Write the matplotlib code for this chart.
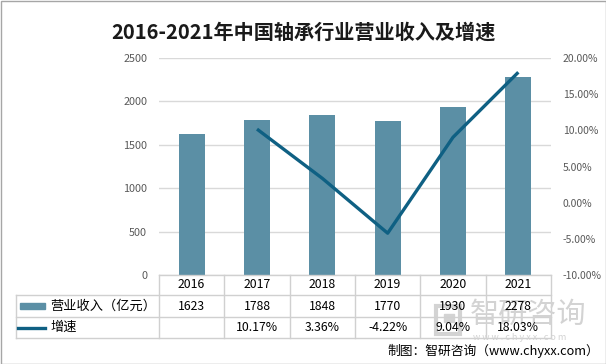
import matplotlib
matplotlib.use("Agg")
import matplotlib.pyplot as plt
from matplotlib.lines import Line2D
from matplotlib.patches import Rectangle

plt.rcParams["font.family"] = ["Noto Sans CJK SC", "DejaVu Sans"]

years = ["2016", "2017", "2018", "2019", "2020", "2021"]
revenue = [1623, 1788, 1848, 1770, 1930, 2278]
growth = [None, 10.17, 3.36, -4.22, 9.04, 18.03]
revenue_labels = ["1623", "1788", "1848", "1770", "1930", "2278"]
growth_labels = ["", "10.17%", "3.36%", "-4.22%", "9.04%", "18.03%"]

bar_color = "#5B8FA5"
line_color = "#0F6083"
grid_color = "#D9D9D9"
tick_color = "#595959"

W, H = 606, 364
fig = plt.figure(figsize=(W / 100, H / 100), dpi=100)

# plot area in pixel coords
x0, x1, ytop, ybot = 159, 551, 58, 275
ax = fig.add_axes([x0 / W, 1 - ybot / H, (x1 - x0) / W, (ybot - ytop) / H])

xs = list(range(len(years)))
ax.bar(xs, revenue, width=0.4, color=bar_color, zorder=2)
ax.set_xlim(-0.5, len(years) - 0.5)
ax.set_ylim(0, 2500)
ax.set_yticks(range(0, 2501, 500))
ax.set_xticks([])
ax.grid(axis="y", color=grid_color, linewidth=1, zorder=0)
for s in ax.spines.values():
    s.set_visible(False)
ax.tick_params(axis="y", length=0, pad=8.5, labelsize=7.8, labelcolor=tick_color)

ax2 = ax.twinx()
gx = [x for x, g in zip(xs, growth) if g is not None]
gy = [g for g in growth if g is not None]
ax2.plot(gx, gy, color=line_color, linewidth=2.4, zorder=3, solid_capstyle="butt")
ax2.set_ylim(-10, 20)
ax2.set_yticks(range(-10, 21, 5))
ax2.set_yticklabels([f"{v:.2f}%" for v in range(-10, 21, 5)])
for s in ax2.spines.values():
    s.set_visible(False)
ax2.tick_params(axis="y", length=0, pad=8.5, labelsize=7.5, labelcolor=tick_color)

# watermark (drawn first so table text sits on top)
wm = "#D3D3D3"
fig.add_artist(Rectangle((436 / W, 1 - 334 / H), 24 / W, 28 / H, fill=False,
                         edgecolor=wm, lw=3))
fig.add_artist(Rectangle((444 / W, 1 - 322 / H), 10 / W, 8 / H, color=wm))
fig.text(528 / W, 1 - 315 / H, "智研咨询", ha="center", va="center",
         fontsize=21, color=wm)
fig.text(520 / W, 1 - 338 / H, "w w w . c h y x x . c o m", ha="center", va="center",
         fontsize=6.5, color=wm)

# data table below the plot
tl = 16
row_y = [275, 295, 317, 338]
col_w = (x1 - x0) / len(years)
tcolor = "#D0D0D0"
fig.add_artist(Line2D([x0 / W, x1 / W], [1 - row_y[0] / H] * 2, color=tcolor, lw=1))
for y in row_y[1:]:
    fig.add_artist(Line2D([tl / W, x1 / W], [1 - y / H] * 2, color=tcolor, lw=1))
fig.add_artist(Line2D([tl / W, tl / W], [1 - row_y[1] / H, 1 - row_y[3] / H], color=tcolor, lw=1))
for i in range(len(years) + 1):
    xx = (x0 + i * col_w) / W
    fig.add_artist(Line2D([xx, xx], [1 - row_y[0] / H, 1 - row_y[3] / H], color=tcolor, lw=1))

rows = [years, revenue_labels, growth_labels]
for r, vals in enumerate(rows):
    yc = 1 - (row_y[r] + row_y[r + 1]) / 2 / H
    for i, v in enumerate(vals):
        fig.text((x0 + (i + 0.5) * col_w) / W, yc, v, ha="center", va="center",
                 fontsize=8.8, color="#000000")

# legend keys in the table
y1 = 1 - (row_y[1] + row_y[2]) / 2 / H
fig.add_artist(Rectangle((20 / W, y1 - 3 / H), 25 / W, 6 / H, color=bar_color))
fig.text(50 / W, y1, "营业收入（亿元）", ha="left", va="center", fontsize=9.5)
y2 = 1 - (row_y[2] + row_y[3]) / 2 / H
fig.add_artist(Line2D([18 / W, 45 / W], [y2, y2], color=line_color, lw=2.4))
fig.text(50 / W, y2, "增速", ha="left", va="center", fontsize=9.5)

fig.suptitle("2016-2021年中国轴承行业营业收入及增速", y=1 - 32 / H, va="center",
             fontsize=14.5, fontweight="bold", color="#1A1A1A")
fig.text(599 / W, 1 - 351 / H, "制图：智研咨询（www.chyxx.com）", ha="right", va="center",
         fontsize=9.2, color="#000000")

fig.add_artist(Rectangle((0.5 / W, 0.5 / H), 1 - 1 / W, 1 - 1 / H, fill=False,
                         edgecolor="#A6A6A6", lw=1))

fig.savefig("out.png", dpi=100)
